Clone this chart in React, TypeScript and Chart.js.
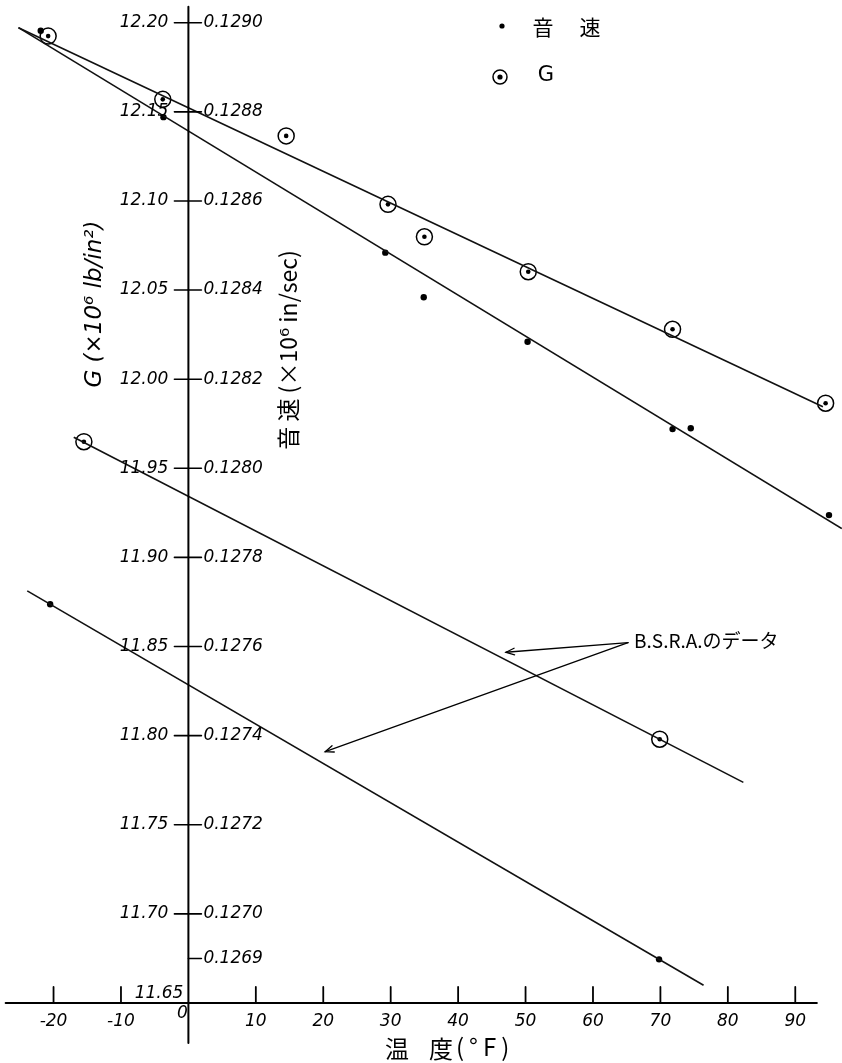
import React, { useEffect, useRef } from "react";
import { Chart, registerables } from "chart.js";

Chart.register(...registerables);

// Axis tick values
const tempTicks = [-20, -10, 0, 10, 20, 30, 40, 50, 60, 70, 80, 90];
const gTicks = [12.2, 12.15, 12.1, 12.05, 12.0, 11.95, 11.9, 11.85, 11.8, 11.75, 11.7];
const gTickLabels = ["12.20", "12.15", "12.10", "12.05", "12.00", "11.95", "11.90", "11.85", "11.80", "11.75", "11.70"];
const vTicks = [0.129, 0.1288, 0.1286, 0.1284, 0.1282, 0.128, 0.1278, 0.1276, 0.1274, 0.1272, 0.127, 0.1269];
const vTickLabels = ["0.1290", "0.1288", "0.1286", "0.1284", "0.1282", "0.1280", "0.1278", "0.1276", "0.1274", "0.1272", "0.1270", "0.1269"];

// Measured sound velocity (x10^6 in/sec) vs temperature (°F)
const soundTemp = [-21.9, -3.7, 29.2, 34.9, 50.3, 71.8, 74.5, 95.0];
const soundVel = [0.128982, 0.128788, 0.128484, 0.128384, 0.128284, 0.128088, 0.12809, 0.127895];

// Measured shear modulus G (x10^6 lb/in^2) vs temperature (°F)
const gTemp = [-20.8, -3.8, 14.5, 29.6, 35.0, 50.4, 71.8, 94.5];
const gVal = [12.1925, 12.157, 12.1365, 12.0981, 12.0799, 12.0603, 12.028, 11.9865];

// Fitted straight lines (end points)
const gFitTemp = [-25.2, 94.1];
const gFitVal = [12.1972, 11.9845];
const soundFitTemp = [-25.2, 96.9];
const soundFitVel = [0.128989, 0.127865];

// B.S.R.A. data
const bsraGTemp = [-15.5, 69.9];
const bsraGVal = [11.9649, 11.798];
const bsraGLineTemp = [-17.0, 82.3];
const bsraGLineVal = [11.9674, 11.7738];
const bsraSoundTemp = [-20.5, 69.8];
const bsraSoundVel = [0.127695, 0.126898];
const bsraSoundLineTemp = [-23.9, 76.4];
const bsraSoundLineVel = [0.127725, 0.12684];

// Visible window of the sheet
const X_MIN = -27.94;
const X_MAX = 96.93;
const G_MIN = 11.61635;
const G_MAX = 12.21274;
// the two vertical scales are tied: 12.20 <-> 0.1290, 11.70 <-> 0.1270
const toV = (g: number) => 0.129 + (g - 12.2) * 0.004;

const pts = (xs: number[], ys: number[]) => xs.map((x, i) => ({ x, y: ys[i] }));

const NUM_FONT = "italic 17px 'DejaVu Sans', sans-serif";
const CJK = "'Noto Sans CJK JP', 'DejaVu Sans', sans-serif";

function arrow(ctx: CanvasRenderingContext2D, x1: number, y1: number, x2: number, y2: number) {
  ctx.beginPath();
  ctx.moveTo(x1, y1);
  ctx.lineTo(x2, y2);
  ctx.stroke();
  const a = Math.atan2(y2 - y1, x2 - x1);
  const L = 9;
  const s = 0.38;
  ctx.beginPath();
  ctx.moveTo(x2 - L * Math.cos(a - s), y2 - L * Math.sin(a - s));
  ctx.lineTo(x2, y2);
  ctx.lineTo(x2 - L * Math.cos(a + s), y2 - L * Math.sin(a + s));
  ctx.stroke();
}

const sheetPlugin = {
  id: "sheetAxes",
  afterDatasetsDraw(chart: any) {
    const ctx: CanvasRenderingContext2D = chart.ctx;
    const xs = chart.scales.x;
    const ys = chart.scales.y;
    const yv = chart.scales.yV;
    const x0 = xs.getPixelForValue(0);
    const yBase = ys.getPixelForValue(11.65);

    ctx.save();
    ctx.strokeStyle = "#000";
    ctx.fillStyle = "#000";
    ctx.lineCap = "round";

    // axes
    ctx.lineWidth = 2;
    ctx.beginPath();
    ctx.moveTo(x0, ys.getPixelForValue(12.209));
    ctx.lineTo(x0, ys.getPixelForValue(11.6276));
    ctx.moveTo(xs.getPixelForValue(-27.1), yBase);
    ctx.lineTo(xs.getPixelForValue(93.2), yBase);
    ctx.stroke();

    // temperature ticks and labels
    ctx.lineWidth = 1.8;
    ctx.font = NUM_FONT;
    ctx.textAlign = "center";
    ctx.textBaseline = "middle";
    tempTicks.forEach((t) => {
      const px = xs.getPixelForValue(t);
      if (t !== 0) {
        ctx.beginPath();
        ctx.moveTo(px, yBase);
        ctx.lineTo(px, yBase - 16);
        ctx.stroke();
        ctx.fillText(String(t), px, yBase + 19);
      } else {
        ctx.fillText("0", px - 6, yBase + 11);
      }
    });

    // G ticks (left) and sound-velocity ticks (right)
    ctx.lineWidth = 1.6;
    ctx.textAlign = "right";
    gTicks.forEach((g, i) => {
      const py = ys.getPixelForValue(g);
      ctx.beginPath();
      ctx.moveTo(x0 - 14, py);
      ctx.lineTo(x0, py);
      ctx.stroke();
      ctx.fillText(gTickLabels[i], x0 - 20, py);
    });
    ctx.fillText("11.65", x0 - 5, yBase - 9);
    ctx.textAlign = "left";
    vTicks.forEach((v, i) => {
      const py = yv.getPixelForValue(v);
      ctx.beginPath();
      ctx.moveTo(x0, py);
      ctx.lineTo(x0 + 13, py);
      ctx.stroke();
      ctx.fillText(vTickLabels[i], x0 + 15, py);
    });

    // axis titles
    ctx.save();
    ctx.translate(95, 304);
    ctx.rotate(-Math.PI / 2);
    ctx.textAlign = "center";
    ctx.font = "italic 23px 'DejaVu Sans', sans-serif";
    ctx.fillText("G (×10⁶ lb/in²)", 0, 0);
    ctx.restore();

    ctx.save();
    ctx.translate(288, 350);
    ctx.rotate(-Math.PI / 2);
    ctx.textAlign = "center";
    ctx.font = `23px ${CJK}`;
    ctx.fillText("音 速 (×10⁶ in/sec)", 0, 0);
    ctx.restore();

    // temperature title
    ctx.textAlign = "center";
    ctx.font = `24px ${CJK}`;
    ctx.fillText("温", 397, 1049);
    ctx.fillText("度", 441, 1049);
    ctx.textAlign = "left";
    (ctx as any).letterSpacing = "5px";
    ctx.fillText("(°F)", 456, 1047);
    (ctx as any).letterSpacing = "0px";

    // legend
    ctx.textAlign = "center";
    ctx.beginPath();
    ctx.arc(502, 26, 2.6, 0, Math.PI * 2);
    ctx.fill();
    ctx.font = `21px ${CJK}`;
    ctx.fillText("音", 543, 27);
    ctx.fillText("速", 590, 27);
    ctx.lineWidth = 1.5;
    ctx.beginPath();
    ctx.arc(500, 77, 7, 0, Math.PI * 2);
    ctx.stroke();
    ctx.beginPath();
    ctx.arc(500, 77, 2.6, 0, Math.PI * 2);
    ctx.fill();
    ctx.font = "21px 'DejaVu Sans', sans-serif";
    ctx.fillText("G", 546, 76);

    // B.S.R.A. note with arrows
    const ox = xs.getPixelForValue(65.2);
    const oy = ys.getPixelForValue(11.8522);
    ctx.lineWidth = 1.3;
    arrow(ctx, ox, oy, xs.getPixelForValue(47.1), ys.getPixelForValue(11.8468));
    arrow(ctx, ox, oy, xs.getPixelForValue(20.3), ys.getPixelForValue(11.791));
    ctx.textAlign = "left";
    ctx.font = `19px ${CJK}`;
    ctx.fillText("B.S.R.A.のデータ", ox + 6, oy - 2);

    ctx.restore();
  },
};

export default function App() {
  const ref = useRef<HTMLCanvasElement>(null);

  useEffect(() => {
    const canvas = ref.current;
    if (!canvas) return;
    const lineStyle = {
      showLine: true,
      borderColor: "#111",
      borderWidth: 1.6,
      pointRadius: 0,
      fill: false,
    };
    const chart = new Chart(canvas, {
      type: "scatter",
      data: {
        datasets: [
          { ...lineStyle, label: "G fit", data: pts(gFitTemp, gFitVal), yAxisID: "y" },
          { ...lineStyle, label: "音速 fit", data: pts(soundFitTemp, soundFitVel), yAxisID: "yV" },
          { ...lineStyle, label: "B.S.R.A. G", data: pts(bsraGLineTemp, bsraGLineVal), yAxisID: "y" },
          { ...lineStyle, label: "B.S.R.A. 音速", data: pts(bsraSoundLineTemp, bsraSoundLineVel), yAxisID: "yV" },
          {
            label: "音速",
            data: pts(soundTemp, soundVel),
            yAxisID: "yV",
            pointRadius: 3.2,
            pointBackgroundColor: "#000",
            pointBorderWidth: 0,
          },
          {
            label: "B.S.R.A. 音速 pts",
            data: pts(bsraSoundTemp, bsraSoundVel),
            yAxisID: "yV",
            pointRadius: 3.2,
            pointBackgroundColor: "#000",
            pointBorderWidth: 0,
          },
          {
            label: "G",
            data: pts(gTemp, gVal),
            yAxisID: "y",
            pointRadius: 8,
            pointBackgroundColor: "rgba(0,0,0,0)",
            pointBorderColor: "#000",
            pointBorderWidth: 1.5,
          },
          {
            label: "G centre",
            data: pts(gTemp, gVal),
            yAxisID: "y",
            pointRadius: 2.3,
            pointBackgroundColor: "#000",
            pointBorderWidth: 0,
          },
          {
            label: "B.S.R.A. G pts",
            data: pts(bsraGTemp, bsraGVal),
            yAxisID: "y",
            pointRadius: 8,
            pointBackgroundColor: "rgba(0,0,0,0)",
            pointBorderColor: "#000",
            pointBorderWidth: 1.5,
          },
          {
            label: "B.S.R.A. G centre",
            data: pts(bsraGTemp, bsraGVal),
            yAxisID: "y",
            pointRadius: 2.3,
            pointBackgroundColor: "#000",
            pointBorderWidth: 0,
          },
        ],
      },
      options: {
        animation: false,
        responsive: false,
        events: [],
        layout: { padding: 0, autoPadding: false },
        plugins: {
          legend: { display: false },
          tooltip: { enabled: false },
        },
        scales: {
          x: { type: "linear", min: X_MIN, max: X_MAX, display: false },
          y: { type: "linear", min: G_MIN, max: G_MAX, display: false },
          yV: { type: "linear", min: toV(G_MIN), max: toV(G_MAX), display: false },
        },
      },
      plugins: [sheetPlugin],
    });
    return () => chart.destroy();
  }, []);

  return (
    <div style={{ position: "fixed", left: 0, top: 0, width: 842, height: 1063, background: "#fff" }}>
      <canvas ref={ref} width={842} height={1063} style={{ display: "block", width: 842, height: 1063 }} />
    </div>
  );
}
